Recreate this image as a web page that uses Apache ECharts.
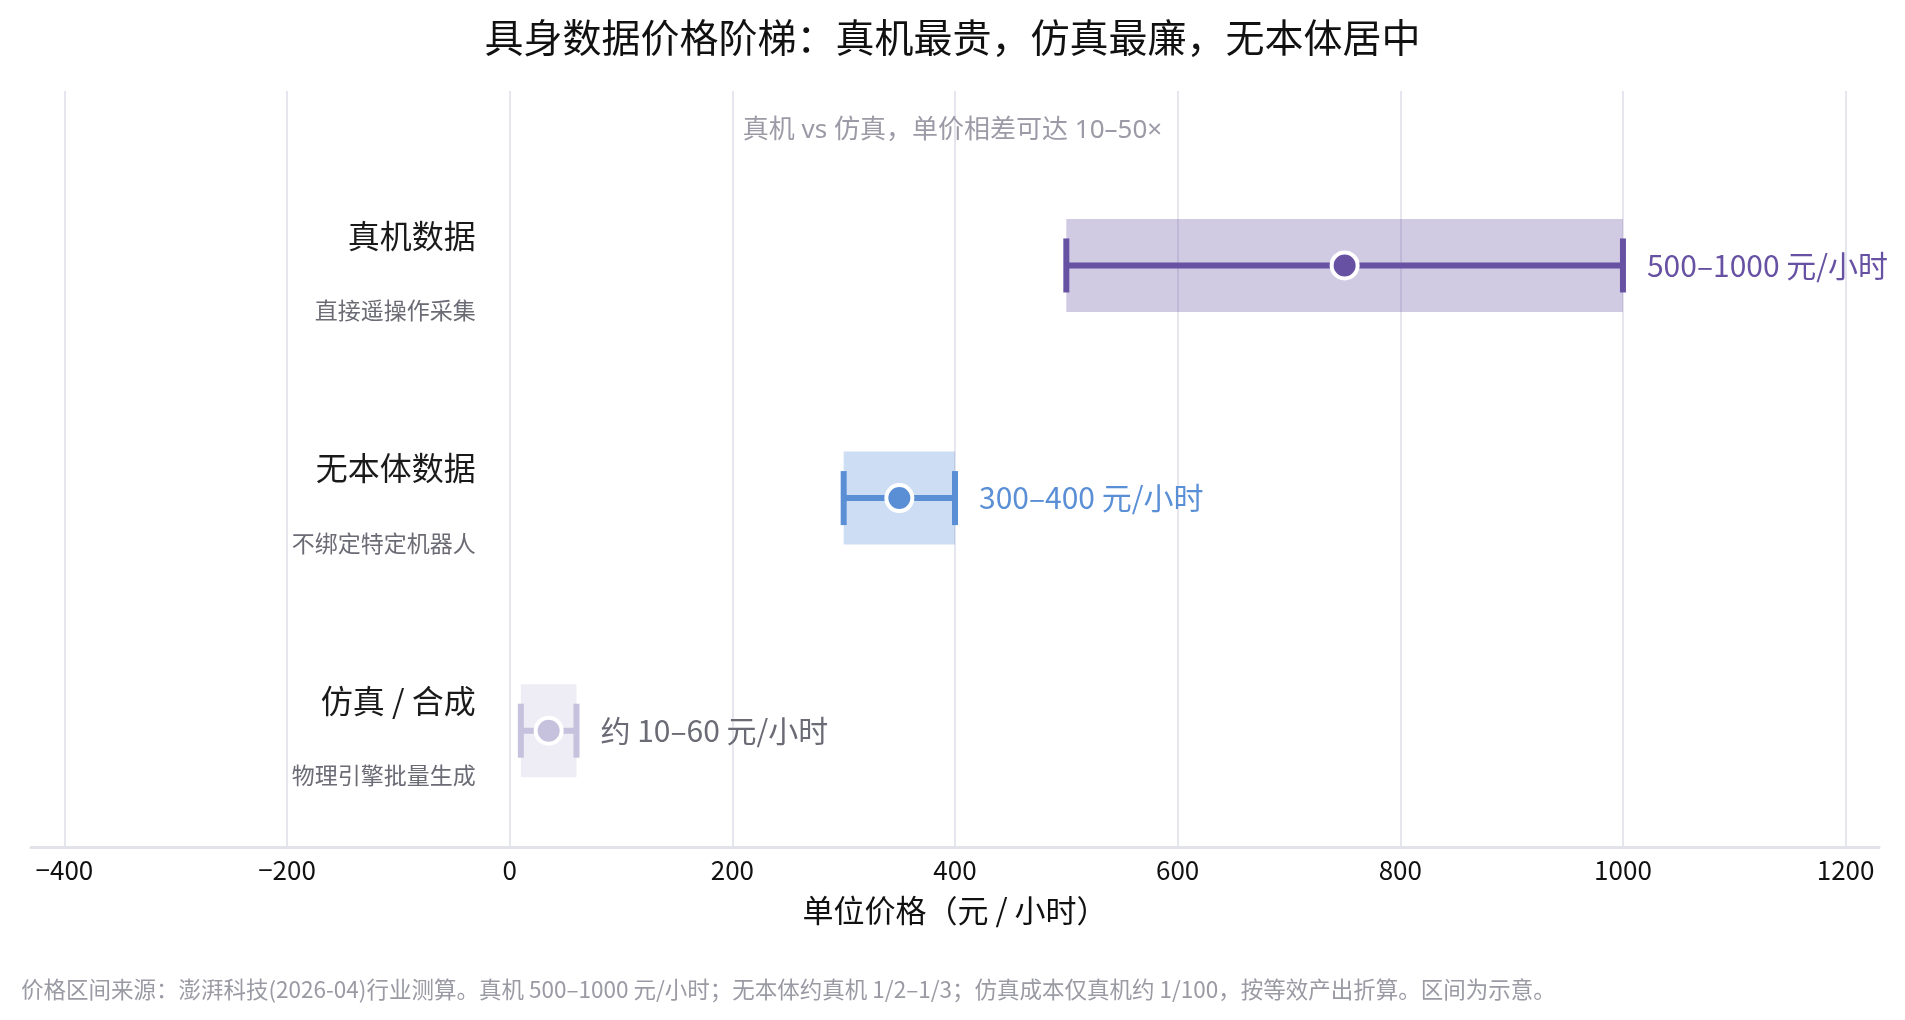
<!DOCTYPE html>
<html>
<head>
<meta charset="utf-8">
<title>具身数据价格阶梯</title>
<script src="https://cdn.jsdelivr.net/npm/echarts@6/dist/echarts.min.js"></script>
<style>
    html, body { margin: 0; padding: 0; background: #fff; }
    #jsjgjt { width: 1905px; height: 1020px; }
</style>
</head>
<body>
<div id="jsjgjt"></div>
<script>
//具身数据价格阶梯
var categories = ['真机数据', '无本体数据', '仿真 / 合成'];
var subLabels = ['直接遥操作采集', '不绑定特定机器人', '物理引擎批量生成'];
var lowValues = [500, 300, 10];
var highValues = [1000, 400, 60];
var midValues = [750, 350, 35];
var rangeLabels = ['500–1000 元/小时', '300–400 元/小时', '约 10–60 元/小时'];

var rowColors = ['#6751a3', '#5a8fd6', '#c6c1dc'];
var labelColors = ['#6751a3', '#5a8fd6', '#6b6b76'];
var fontFamily = "'Noto Sans CJK SC', 'Noto Sans', sans-serif";
var latinFirst = "'Noto Sans', 'Noto Sans CJK SC', sans-serif";

//区间+误差线
function renderRange(params, api) {
    var i = params.dataIndex;
    var row = api.value(3);
    var lo = api.coord([api.value(0), row]);
    var hi = api.coord([api.value(1), row]);
    var zero = api.coord([0, row]);
    var y = lo[1];
    var bandH = api.size([0, 0.4])[1];
    var capH = 54;
    var color = rowColors[i];
    return {
        type: 'group',
        children: [
            {
                type: 'rect',
                shape: { x: lo[0], y: y - bandH / 2, width: hi[0] - lo[0], height: bandH },
                style: { fill: color, opacity: 0.3 }
            },
            {
                type: 'line',
                shape: { x1: lo[0], y1: y, x2: hi[0], y2: y },
                style: { stroke: color, lineWidth: 6 }
            },
            {
                type: 'line',
                shape: { x1: lo[0], y1: y - capH / 2, x2: lo[0], y2: y + capH / 2 },
                style: { stroke: color, lineWidth: 6 }
            },
            {
                type: 'line',
                shape: { x1: hi[0], y1: y - capH / 2, x2: hi[0], y2: y + capH / 2 },
                style: { stroke: color, lineWidth: 6 }
            },
            {
                type: 'text',
                x: hi[0] + 24, y: y,
                style: {
                    text: rangeLabels[i], fill: labelColors[i], fontSize: 30,
                    fontFamily: fontFamily, verticalAlign: 'middle', align: 'left'
                }
            },
            {
                type: 'text',
                x: zero[0] - 34, y: y - 30,
                style: {
                    text: categories[i], fill: '#1a1a1a', fontSize: 32,
                    fontFamily: fontFamily, verticalAlign: 'middle', align: 'right'
                }
            },
            {
                type: 'text',
                x: zero[0] - 34, y: y + 45,
                style: {
                    text: subLabels[i], fill: '#6b6b75', fontSize: 23,
                    fontFamily: fontFamily, verticalAlign: 'middle', align: 'right'
                }
            }
        ]
    };
}

var rangeData = [];
var dotData = [];
for (var i = 0; i < categories.length; i++) {
    rangeData.push([lowValues[i], highValues[i], midValues[i], i]);
    dotData.push({ value: [midValues[i], i], itemStyle: { color: rowColors[i] } });
}

var option = {
    backgroundColor: '#fff',
    animation: false,
    textStyle: { fontFamily: fontFamily },
    title: [
        {
            text: '具身数据价格阶梯：真机最贵，仿真最廉，无本体居中',
            left: 'center',
            top: 13,
            textStyle: { fontSize: 39, fontWeight: 'normal', color: '#111', fontFamily: fontFamily }
        },
        {
            text: '真机 vs 仿真，单价相差可达 10–50×',
            left: 'center',
            top: 113,
            textStyle: { fontSize: 26, fontWeight: 'normal', color: '#9b9aa6', fontFamily: latinFirst }
        },
        {
            text: '价格区间来源：澎湃科技(2026-04)行业测算。真机 500–1000 元/小时；无本体约真机 1/2–1/3；仿真成本仅真机约 1/100，按等效产出折算。区间为示意。',
            left: 16,
            top: 973,
            textStyle: { fontSize: 22.5, fontWeight: 'normal', color: '#9a9aa4', fontFamily: fontFamily }
        }
    ],
    grid: {
        left: 31,
        right: 26,
        top: 91,
        bottom: 173
    },
    xAxis: {
        type: 'value',
        min: -430,
        max: 1230,
        splitNumber: 8,
        minInterval: 200,
        maxInterval: 200,
        name: '单位价格（元 / 小时）',
        nameLocation: 'middle',
        nameGap: 48,
        nameTextStyle: { fontSize: 31, color: '#111', fontFamily: fontFamily },
        axisLine: { show: true, onZero: false, lineStyle: { color: '#e2e2ea', width: 3 } },
        axisTick: { show: false },
        axisLabel: {
            fontSize: 26, color: '#111', margin: 10,
            showMinLabel: false, showMaxLabel: false,
            formatter: function (v) { return v < 0 ? '−' + (-v) : String(v); }
        },
        splitLine: {
            show: true, showMinLine: false, showMaxLine: false,
            lineStyle: { color: '#e6e6ee', width: 2 }
        }
    },
    yAxis: {
        type: 'value',
        inverse: true,
        min: -0.75,
        max: 2.5,
        show: false
    },
    series: [
        {
            type: 'custom',
            renderItem: renderRange,
            encode: { x: [0, 1, 2], y: 3 },
            clip: false,
            data: rangeData,
            z: 2
        },
        {
            type: 'scatter',
            symbol: 'circle',
            symbolSize: 26,
            itemStyle: { borderColor: '#fff', borderWidth: 4, opacity: 1 },
            data: dotData,
            z: 5
        }
    ]
};

var myChart = echarts.init(document.getElementById('jsjgjt'));
myChart.setOption(option);
</script>
</body>
</html>
